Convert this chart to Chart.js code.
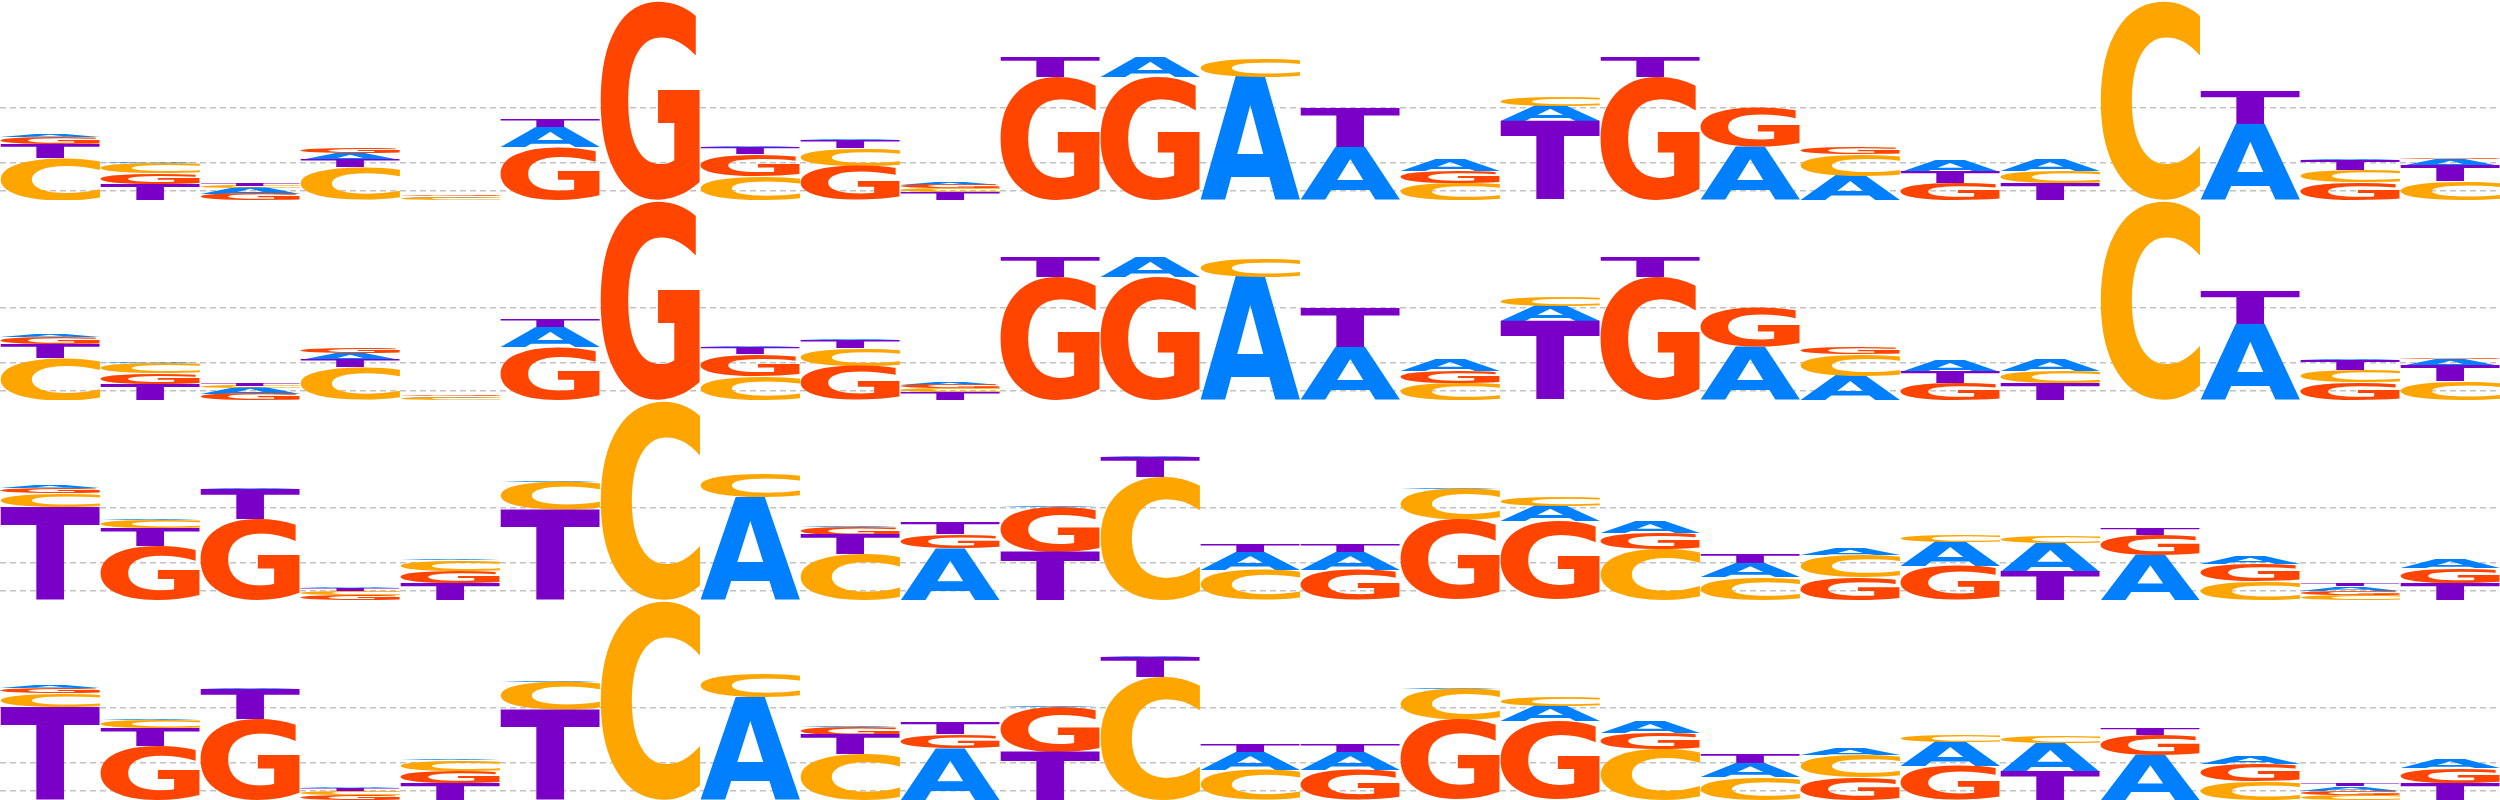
<!DOCTYPE html>
<html>
<head>
<meta charset="utf-8">
<title>Sequence logos</title>
<script src="https://cdn.jsdelivr.net/npm/chart.js@4.4.0/dist/chart.umd.min.js"></script>
<style>
  html, body { margin: 0; padding: 0; background: #fff; }
  canvas { display: block; }
</style>
</head>
<body>
<canvas id="row0" width="2500" height="200"></canvas>
<canvas id="row1" width="2500" height="200"></canvas>
<canvas id="row2" width="2500" height="200"></canvas>
<canvas id="row3" width="2500" height="200"></canvas>
<script>
const positions = ['1','2','3','4','5','6','7','8','9','10','11','12','13',
  '14','15','16','17','18','19','20','21','22','23','24','25'];

// letter heights (bits) per position, motif of rows 1 and 2
const m1A = [0.03, 0.01, 0.06, 0.07, 0.015, 0.20, 0.003, 0.005, 0.005, 0.03, 0.005, 0.19, 1.23,
  0.53, 0.11, 0.15, 0.005, 0.53, 0.24, 0.11, 0.115, 0.003, 0.76, 0.005, 0.07];
const m1C = [0.42, 0.105, 0.02, 0.33, 0.025, 0.005, 0.003, 0.24, 0.18, 0.035, 0.005, 0.005, 0.19,
  0.005, 0.17, 0.09, 0.005, 0.005, 0.22, 0.005, 0.12, 1.99, 0.005, 0.12, 0.19];
const m1G = [0.07, 0.11, 0.061, 0.05, 0.012, 0.53, 1.99, 0.22, 0.34, 0.032, 1.23, 1.23, 0.005,
  0.005, 0.12, 0.005, 1.23, 0.39, 0.07, 0.17, 0.005, 0.003, 0.005, 0.18, 0.01];
const m1T = [0.14, 0.16, 0.018, 0.073, 0.005, 0.08, 0.003, 0.07, 0.08, 0.08, 0.19, 0.005, 0.005,
  0.39, 0.005, 0.79, 0.19, 0.005, 0.005, 0.115, 0.17, 0.003, 0.32, 0.10, 0.15];

// motif of rows 3 and 4
const m2A = [0.03, 0.005, 0.005, 0.01, 0.005, 0.005, 0.003, 1.03, 0.005, 0.52, 0.005, 0.005, 0.18,
  0.18, 0.005, 0.15, 0.11, 0.14, 0.07, 0.24, 0.28, 0.45, 0.08, 0.04, 0.09];
const m2C = [0.14, 0.08, 0.005, 0.04, 0.11, 0.28, 1.99, 0.24, 0.46, 0.005, 0.005, 1.23, 0.30,
  0.005, 0.31, 0.09, 0.51, 0.23, 0.225, 0.06, 0.06, 0.005, 0.185, 0.05, 0.005];
const m2G = [0.05, 0.54, 0.81, 0.05, 0.12, 0.005, 0.003, 0.005, 0.08, 0.14, 0.45, 0.005, 0.005,
  0.30, 0.80, 0.79, 0.16, 0.005, 0.23, 0.34, 0.005, 0.20, 0.18, 0.045, 0.15];
const m2T = [0.93, 0.18, 0.30, 0.03, 0.17, 0.90, 0.003, 0.005, 0.19, 0.11, 0.48, 0.20, 0.08,
  0.08, 0.005, 0.005, 0.005, 0.09, 0.005, 0.005, 0.285, 0.07, 0.005, 0.02, 0.17];

const letters = ['A', 'C', 'G', 'T'];
const letterColors = { A: '#0080ff', C: '#ffa500', G: '#ff4500', T: '#7a00c8' };
const gridLevels = [0.093, 0.37, 0.92];

const rows = [
  [m1A, m1C, m1G, m1T],
  [m1A, m1C, m1G, m1T],
  [m2A, m2C, m2G, m2T],
  [m2A, m2C, m2G, m2T]
];

// largest letter sits at the bottom of each column
function stackColumns(motif) {
  const ranges = letters.map(() => []);
  positions.forEach((p, i) => {
    const order = [0, 1, 2, 3].sort((a, b) => motif[b][i] - motif[a][i]);
    let base = 0;
    order.forEach(li => {
      ranges[li][i] = [base, base + motif[li][i]];
      base += motif[li][i];
    });
  });
  return ranges;
}

function drawLetter(ctx, ch, color, x, y, w, h) {
  if (h < 0.3) return;
  ctx.save();
  ctx.font = 'bold 200px "DejaVu Sans"';
  ctx.textAlign = 'left';
  ctx.textBaseline = 'alphabetic';
  const m = ctx.measureText(ch);
  const gw = m.actualBoundingBoxLeft + m.actualBoundingBoxRight;
  const gh = m.actualBoundingBoxAscent + m.actualBoundingBoxDescent;
  ctx.translate(x, y);
  ctx.scale(w / gw, h / gh);
  ctx.fillStyle = color;
  ctx.fillText(ch, m.actualBoundingBoxLeft, m.actualBoundingBoxAscent);
  ctx.restore();
}

const letterPlugin = {
  id: 'letters',
  afterDatasetsDraw(chart) {
    const ctx = chart.ctx;
    chart.data.datasets.forEach((ds, di) => {
      chart.getDatasetMeta(di).data.forEach(bar => {
        const top = Math.min(bar.y, bar.base);
        const h = Math.abs(bar.base - bar.y);
        drawLetter(ctx, ds.label, letterColors[ds.label], bar.x - bar.width / 2, top, bar.width, h);
      });
    });
  }
};

rows.forEach((motif, r) => {
  const ranges = stackColumns(motif);
  new Chart(document.getElementById('row' + r), {
    type: 'bar',
    data: {
      labels: positions,
      datasets: letters.map((l, li) => ({
        label: l,
        data: ranges[li],
        backgroundColor: 'rgba(0,0,0,0)',
        borderWidth: 0,
        barPercentage: 1,
        categoryPercentage: 1
      }))
    },
    options: {
      responsive: false,
      animation: false,
      devicePixelRatio: 1,
      layout: { padding: 0 },
      plugins: { legend: { display: false }, tooltip: { enabled: false } },
      scales: {
        x: { display: false, stacked: true },
        y: {
          min: 0,
          max: 2,
          stacked: false,
          afterBuildTicks: s => { s.ticks = gridLevels.map(v => ({ value: v })); },
          afterFit: s => { s.width = 0; },
          ticks: { display: false },
          grid: { color: '#c2c2c2', lineWidth: 1.5, drawTicks: false },
          border: { display: false, dash: [6, 4] }
        }
      }
    },
    plugins: [letterPlugin]
  });
});
</script>
</body>
</html>
